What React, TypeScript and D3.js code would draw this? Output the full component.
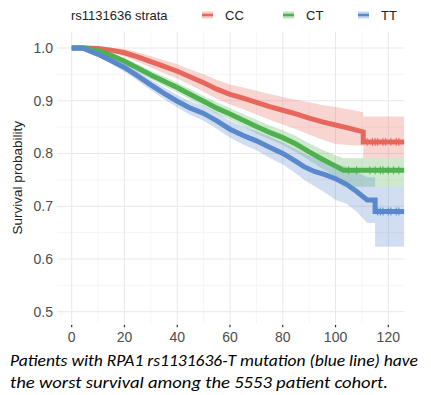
import React from "react";
import * as d3 from "d3";

const xTicks = [0, 20, 40, 60, 80, 100, 120];
const yTicks = [0.5, 0.6, 0.7, 0.8, 0.9, 1.0];
const legendTitle = "rs1131636 strata";
const strata = ["CC", "CT", "TT"];
const colors = ["#E8675C", "#4FB04F", "#5A88CC"];

const ccTime = [0, 5, 10, 15, 20, 25, 30, 35, 40, 45, 50, 55, 60, 65, 70, 75, 80, 85, 90, 95, 100, 105, 110.5, 110.5, 126];
const ccSurv = [1.0, 1.0, 0.999, 0.996, 0.991, 0.983, 0.974, 0.965, 0.956, 0.945, 0.934, 0.922, 0.912, 0.905, 0.897, 0.889, 0.882, 0.875, 0.867, 0.86, 0.854, 0.848, 0.841, 0.822, 0.822];
const ccLower = [1.0, 1.0, 0.996, 0.991, 0.984, 0.974, 0.963, 0.952, 0.942, 0.93, 0.917, 0.904, 0.893, 0.884, 0.874, 0.864, 0.855, 0.846, 0.836, 0.826, 0.818, 0.816, 0.815, 0.791, 0.791];
const ccUpper = [1.0, 1.0, 1.0, 1.0, 0.998, 0.992, 0.985, 0.977, 0.969, 0.959, 0.95, 0.94, 0.931, 0.925, 0.919, 0.913, 0.907, 0.902, 0.897, 0.892, 0.888, 0.884, 0.878, 0.87, 0.87];
const ccCensor = [112, 114, 115, 116, 118, 119, 121, 123, 124];

const ctTime = [0, 5, 10, 15, 20, 25, 30, 35, 40, 45, 50, 55, 60, 65, 70, 75, 80, 85, 90, 95, 100, 103, 126];
const ctSurv = [1.0, 1.0, 0.995, 0.986, 0.975, 0.962, 0.949, 0.937, 0.925, 0.912, 0.899, 0.886, 0.875, 0.863, 0.851, 0.84, 0.83, 0.818, 0.803, 0.789, 0.776, 0.768, 0.768];
const ctLower = [1.0, 1.0, 0.993, 0.982, 0.969, 0.955, 0.941, 0.928, 0.916, 0.902, 0.889, 0.875, 0.864, 0.851, 0.838, 0.827, 0.816, 0.803, 0.787, 0.771, 0.756, 0.737, 0.737];
const ctUpper = [1.0, 1.0, 0.997, 0.99, 0.981, 0.969, 0.957, 0.946, 0.934, 0.922, 0.909, 0.897, 0.886, 0.875, 0.864, 0.853, 0.844, 0.833, 0.819, 0.807, 0.796, 0.791, 0.791];
const ctCensor = [105, 108, 113, 115, 117, 118, 120, 122, 124];

const ttTime = [0, 4, 10, 15, 20, 25, 30, 35, 40, 45, 50, 55, 60, 65, 70, 75, 80, 85, 88, 92, 96, 100, 104, 108, 112, 115, 115, 126];
const ttSurv = [1.0, 1.0, 0.988, 0.976, 0.963, 0.947, 0.93, 0.914, 0.899, 0.886, 0.876, 0.862, 0.846, 0.834, 0.824, 0.812, 0.8, 0.785, 0.775, 0.766, 0.76, 0.752, 0.742, 0.728, 0.712, 0.712, 0.69, 0.69];
const ttLower = [1.0, 1.0, 0.984, 0.97, 0.955, 0.938, 0.92, 0.903, 0.887, 0.873, 0.862, 0.847, 0.83, 0.817, 0.806, 0.792, 0.779, 0.762, 0.75, 0.738, 0.726, 0.712, 0.705, 0.69, 0.668, 0.668, 0.623, 0.623];
const ttUpper = [1.0, 1.0, 0.992, 0.982, 0.971, 0.956, 0.94, 0.925, 0.911, 0.899, 0.89, 0.877, 0.862, 0.851, 0.842, 0.832, 0.821, 0.808, 0.8, 0.792, 0.787, 0.781, 0.775, 0.765, 0.755, 0.755, 0.737, 0.737];
const ttCensor = [116, 117, 118, 120, 121, 123, 124];

const caption1 = "Patients with RPA1 rs1131636-T mutation (blue line) have";
const caption2 = "the worst survival among the 5553 patient cohort.";

const series = [
  { time: ccTime, surv: ccSurv, lower: ccLower, upper: ccUpper, censor: ccCensor },
  { time: ctTime, surv: ctSurv, lower: ctLower, upper: ctUpper, censor: ctCensor },
  { time: ttTime, surv: ttSurv, lower: ttLower, upper: ttUpper, censor: ttCensor },
];

export default function App() {
  const W = 431, H = 395;
  const x = d3.scaleLinear().domain([0, 120]).range([71.7, 388.3]);
  const y = d3.scaleLinear().domain([0.5, 1.0]).range([311.7, 48]);
  const left = x(-5.5), right = x(126), top = y(1.03), bottom = y(0.478);
  const font = "Liberation Sans, Arial, sans-serif";

  const majorX = xTicks;
  const minorX = d3.range(10, 130, 20);
  const minorY = [0.55, 0.65, 0.75, 0.85, 0.95];

  const valueAt = (s: any, t: number) => {
    let v = s.surv[0];
    for (let i = 0; i < s.time.length; i++) if (s.time[i] <= t) v = s.surv[i];
    return v;
  };

  return (
    <svg width={W} height={H} style={{ position: "absolute", left: 0, top: 0, background: "#fff" }}>
      <rect width={W} height={H} fill="#fff" />
      {minorX.map((t) => (
        <line key={"mx" + t} x1={x(t)} x2={x(t)} y1={top} y2={bottom} stroke="#F3F3F3" strokeWidth={0.8} />
      ))}
      {minorY.map((v) => (
        <line key={"my" + v} x1={left} x2={right} y1={y(v)} y2={y(v)} stroke="#F3F3F3" strokeWidth={0.8} />
      ))}
      {majorX.map((t) => (
        <line key={"gx" + t} x1={x(t)} x2={x(t)} y1={top} y2={bottom} stroke="#E8E8E8" strokeWidth={1} />
      ))}
      {yTicks.map((v) => (
        <line key={"gy" + v} x1={left} x2={right} y1={y(v)} y2={y(v)} stroke="#E8E8E8" strokeWidth={1} />
      ))}
      {series.map((s, k) => {
        const pts = s.time.map((t, i) => [t, s.lower[i], s.upper[i]]);
        const area = d3
          .area<number[]>()
          .x((d) => x(d[0]))
          .y0((d) => y(d[1]))
          .y1((d) => y(d[2]))
          .curve(d3.curveLinear);
        return <path key={"b" + k} d={area(pts) || ""} fill={colors[k]} fillOpacity={0.28} />;
      })}
      {series.map((s, k) => {
        const pts = s.time.map((t, i) => [t, s.surv[i]]);
        const line = d3
          .line<number[]>()
          .x((d) => x(d[0]))
          .y((d) => y(d[1]))
          .curve(d3.curveLinear);
        return (
          <g key={"l" + k}>
            <path d={line(pts) || ""} fill="none" stroke={colors[k]} strokeWidth={5} />
            {s.censor.map((t, j) => (
              <line
                key={j}
                x1={x(t)}
                x2={x(t)}
                y1={y(valueAt(s, t)) - 4}
                y2={y(valueAt(s, t)) + 4}
                stroke={colors[k]}
                strokeWidth={1}
              />
            ))}
          </g>
        );
      })}
      {xTicks.map((t) => (
        <g key={"xt" + t}>
          <line x1={x(t)} x2={x(t)} y1={bottom + 1.5} y2={bottom + 4} stroke="#333" strokeWidth={1.2} />
          <text x={x(t)} y={341.5} textAnchor="middle" fontFamily={font} fontSize={14} fill="#4D4D4D">
            {t}
          </text>
        </g>
      ))}
      {yTicks.map((v) => (
        <text key={"yt" + v} x={53} y={y(v) + 5} textAnchor="end" fontFamily={font} fontSize={14} fill="#4D4D4D">
          {v.toFixed(1)}
        </text>
      ))}
      <text
        transform={`translate(22,${(top + bottom) / 2}) rotate(-90)`}
        textAnchor="middle"
        fontFamily={font}
        fontSize={13.5}
        fill="#222"
      >
        Survival probability
      </text>
      <text x={71} y={19.5} fontFamily={font} fontSize={13} fill="#222">
        {legendTitle}
      </text>
      {strata.map((name, k) => {
        const kx = [202, 283, 358][k];
        return (
          <g key={"lg" + k}>
            <rect x={kx} y={11.5} width={11} height={7} fill={colors[k]} fillOpacity={0.35} />
            <line x1={kx} x2={kx + 11} y1={15} y2={15} stroke={colors[k]} strokeWidth={2.5} />
            <text x={kx + 23} y={19.5} fontFamily={font} fontSize={13} fill="#222">
              {name}
            </text>
          </g>
        );
      })}
      <text x={10} y={366} fontFamily="Carlito, Lato, sans-serif" fontStyle="italic" fontSize={16.5} fill="#000" textLength={408} lengthAdjust="spacingAndGlyphs">
        {caption1}
      </text>
      <text x={10} y={388} fontFamily="Carlito, Lato, sans-serif" fontStyle="italic" fontSize={16.5} fill="#000" textLength={378} lengthAdjust="spacingAndGlyphs">
        {caption2}
      </text>
    </svg>
  );
}
